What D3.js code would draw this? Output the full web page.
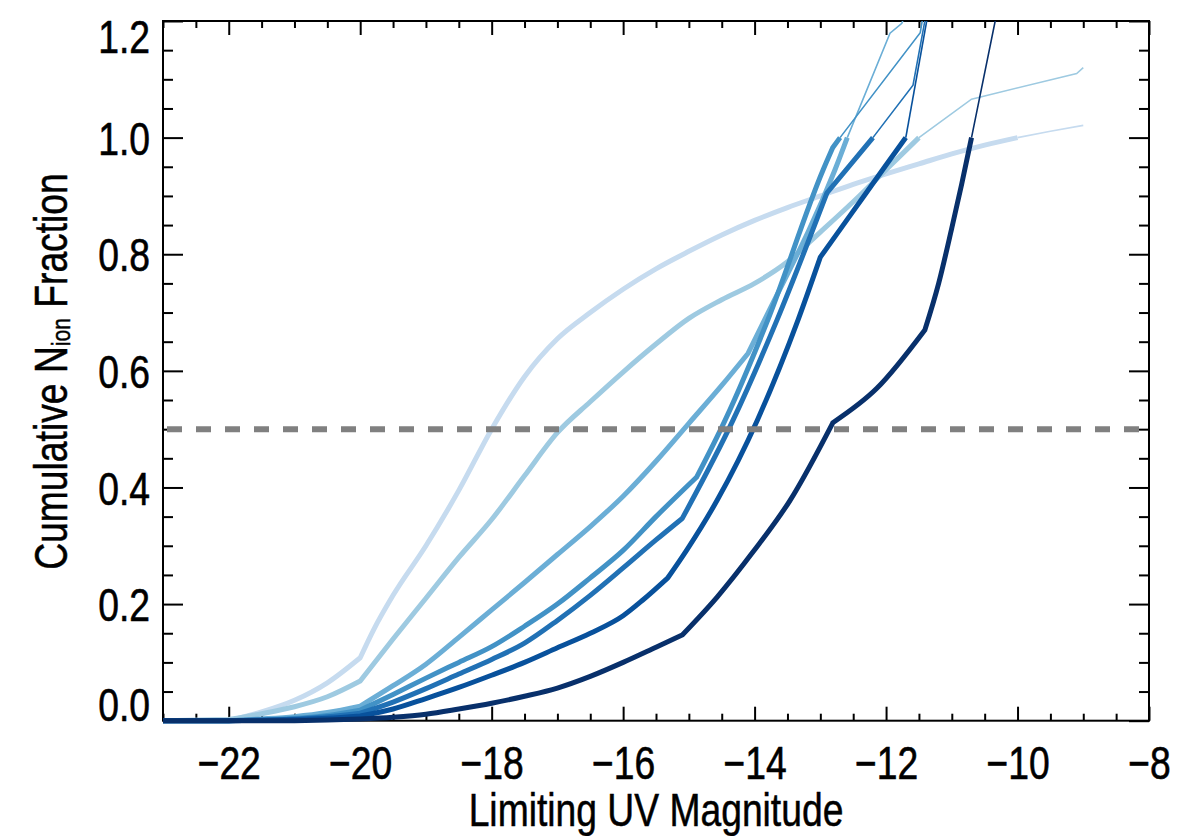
<!DOCTYPE html>
<html>
<head>
<meta charset="utf-8">
<script src="https://cdn.jsdelivr.net/npm/d3@7"></script>
<style>
  body { margin: 0; background: #fff; }
  text { font-family: "Liberation Sans", Arial, Helvetica, sans-serif; }
</style>
</head>
<body>
<div id="chart"></div>
<script>
// ---- data ----
// thick part of each curve (up to fraction = 1)
var magPale  = [-23, -22, -21.5, -21, -20.5, -20, -19.8, -19.5, -19, -18.5, -18, -17.5, -17, -16.5, -16, -15.5, -15, -14.5, -14, -13.5, -13, -12.5, -12, -11.5, -11, -10.5, -10];
var fracPale = [0, 0, 0.015, 0.035, 0.065, 0.108, 0.155, 0.215, 0.30, 0.395, 0.50, 0.59, 0.655, 0.70, 0.74, 0.775, 0.805, 0.833, 0.858, 0.88, 0.90, 0.92, 0.938, 0.955, 0.972, 0.987, 1.0];

var magLight  = [-23, -22, -21.5, -21, -20.5, -20, -19.5, -19, -18.5, -18, -17.5, -17, -16.5, -16, -15.5, -15, -14.5, -14, -13.5, -13, -12.5, -12, -11.5];
var fracLight = [0, 0.002, 0.012, 0.024, 0.041, 0.068, 0.14, 0.21, 0.28, 0.345, 0.42, 0.494, 0.547, 0.598, 0.646, 0.69, 0.722, 0.75, 0.787, 0.838, 0.89, 0.945, 1.0];

var magMid  = [-23, -22, -21.5, -21, -20.5, -20, -19.5, -19, -18.5, -18, -17.5, -17, -16.5, -16, -15.5, -15, -14.5, -14.1, -13.85, -12.78, -12.59];
var fracMid = [0, 0, 0.003, 0.007, 0.014, 0.025, 0.06, 0.097, 0.143, 0.19, 0.237, 0.285, 0.333, 0.385, 0.445, 0.51, 0.575, 0.63, 0.687, 0.944, 1.0];

var magB4  = [-23, -22, -21, -20.5, -20, -19.5, -19, -18.5, -18, -17.5, -17, -16.5, -16, -15.5, -14.88, -14.45, -13.8, -12.96, -12.81, -12.7];
var fracB4 = [0, 0, 0.004, 0.009, 0.018, 0.045, 0.073, 0.1, 0.127, 0.162, 0.2, 0.245, 0.292, 0.35, 0.418, 0.515, 0.687, 0.944, 0.983, 1.0];

var magB5  = [-23, -22, -21, -20.5, -20, -19.5, -19, -18.5, -18, -17.5, -17, -16.5, -16, -15.5, -15.1, -14.33, -13.66, -12.9, -12.2];
var fracB5 = [0, 0, 0.003, 0.007, 0.013, 0.032, 0.055, 0.08, 0.105, 0.133, 0.172, 0.215, 0.262, 0.31, 0.347, 0.515, 0.687, 0.905, 1.0];

var magB6  = [-23, -22, -21, -20.5, -20, -19.5, -19, -18.5, -18, -17.5, -17, -16.5, -16, -15.7, -15.32, -15.03, -14.57, -13.96, -13.34, -13.0, -12.5, -12.0, -11.7];
var fracB6 = [0, 0, 0.002, 0.004, 0.008, 0.02, 0.038, 0.057, 0.078, 0.1, 0.125, 0.15, 0.18, 0.207, 0.245, 0.293, 0.378, 0.515, 0.687, 0.795, 0.874, 0.953, 1.0];

var magDark  = [-23, -21, -20.5, -20, -19.5, -19, -18.5, -18, -17.5, -17, -16.5, -16, -15.5, -15.1, -14.57, -14.02, -13.46, -12.81, -12.14, -11.41, -11.2, -11.0, -10.85, -10.7];
var fracDark = [0, 0, 0.001, 0.003, 0.006, 0.011, 0.02, 0.03, 0.042, 0.056, 0.076, 0.1, 0.126, 0.147, 0.212, 0.29, 0.378, 0.511, 0.57, 0.67, 0.75, 0.845, 0.92, 1.0];

// magnitudes where a curve has a sharp corner
var kinkPale  = [-22, -20];
var kinkLight = [-22, -20];
var kinkMid   = [-22, -20, -14.1];
var kinkB4    = [-22, -20, -14.88, -12.81];
var kinkB5    = [-22, -20, -15.1, -12.9];
var kinkB6    = [-22, -20, -15.32, -13.0];
var kinkDark  = [-21, -15.1, -12.81, -11.41];

// thin continuation of each curve (fraction > 1)
var extMagPale  = [-10, -9.5, -9];
var extFracPale = [1.0, 1.011, 1.021];
var extMagLight  = [-11.5, -10.7, -9.1, -9.0];
var extFracLight = [1.0, 1.066, 1.11, 1.12];
var extMagMid  = [-12.59, -11.94, -11.76, -11.7];
var extFracMid = [1.0, 1.179, 1.196, 1.215];
var extMagB4  = [-12.7, -11.48, -11.42];
var extFracB4 = [1.0, 1.18, 1.22];
var extMagB5  = [-12.2, -11.59, -11.41, -11.39];
var extFracB5 = [1.0, 1.09, 1.2, 1.22];
var extMagB6  = [-11.7, -11.35];
var extFracB6 = [1.0, 1.22];
var extMagDark  = [-10.7, -10.34, -10.3];
var extFracDark = [1.0, 1.2, 1.22];

var seriesColors = ["#c6dbef", "#9ecae1", "#6baed6", "#4292c6", "#2171b5", "#08519c", "#08306b"];

var xMajor = [-22, -20, -18, -16, -14, -12, -10, -8];
var xTickLabels = ["\u221222", "\u221220", "\u221218", "\u221216", "\u221214", "\u221212", "\u221210", "\u22128"];
var yMajor = [0, 0.2, 0.4, 0.6, 0.8, 1.0, 1.2];
var yTickLabels = ["0.0", "0.2", "0.4", "0.6", "0.8", "1.0", "1.2"];
var halfLevel = 0.5;

// ---- layout ----
var svgWidth = 1200;
var svgHeight = 836;
var margin = { top: 21, right: 51, bottom: 115.3, left: 163 };
var width = svgWidth - margin.left - margin.right;
var height = svgHeight - margin.top - margin.bottom;
var narrow = 0.81;   // Helvetica Narrow look

var svg = d3.select("#chart").append("svg")
  .attr("width", svgWidth)
  .attr("height", svgHeight)
  .style("background", "#fff");

var chartGroup = svg.append("g")
  .attr("transform", `translate(${margin.left}, ${margin.top})`);

var x = d3.scaleLinear().domain([-23, -8]).range([0, width]);
var y = d3.scaleLinear().domain([0, 1.2]).range([height, 0]);

var xMinor = d3.range(-23, -7.99, 0.5).filter(d => xMajor.indexOf(d) < 0);
var yMinor = d3.range(0, 1.201, 0.05).map(d => +d.toFixed(2)).filter(d => yMajor.indexOf(d) < 0);

function styleTicks(g) {
  g.select(".domain").remove();
  g.selectAll("line").attr("stroke", "#000").attr("stroke-width", 2);
}

// bottom axis
chartGroup.append("g")
  .attr("transform", `translate(0, ${height})`)
  .call(d3.axisBottom(x).tickValues(xMinor).tickSize(-7).tickFormat(""))
  .call(styleTicks);

var bottomAxis = chartGroup.append("g")
  .attr("transform", `translate(0, ${height})`)
  .call(d3.axisBottom(x).tickValues(xMajor).tickSize(-14).tickFormat((d, i) => xTickLabels[i]))
  .call(styleTicks);

bottomAxis.attr("font-size", 46).attr("font-family", null);
bottomAxis.selectAll("text")
  .attr("y", 58)
  .attr("dy", 0)
  .attr("fill", "#000")
  .attr("stroke", "#000")
  .attr("stroke-width", 0.6)
  .attr("transform", `scale(${narrow},1)`);

// top axis
chartGroup.append("g")
  .call(d3.axisTop(x).tickValues(xMinor).tickSize(-7).tickFormat(""))
  .call(styleTicks);
chartGroup.append("g")
  .call(d3.axisTop(x).tickValues(xMajor).tickSize(-14).tickFormat(""))
  .call(styleTicks);

// left axis
chartGroup.append("g")
  .call(d3.axisLeft(y).tickValues(yMinor).tickSize(-10).tickFormat(""))
  .call(styleTicks);

var leftAxis = chartGroup.append("g")
  .call(d3.axisLeft(y).tickValues(yMajor).tickSize(-20).tickFormat((d, i) => yTickLabels[i]))
  .call(styleTicks);

leftAxis.attr("font-size", 46).attr("font-family", null);
leftAxis.selectAll("text")
  .attr("x", -13 / narrow)
  .attr("text-anchor", "end")
  .attr("fill", "#000")
  .attr("stroke", "#000")
  .attr("stroke-width", 0.6)
  .attr("transform", `scale(${narrow},1)`)
  .attr("y", d => d === 1.2 ? 31 : 0)
  .attr("dy", d => (d === 0 || d === 1.2) ? 0 : "0.36em");

// right axis
chartGroup.append("g")
  .attr("transform", `translate(${width}, 0)`)
  .call(d3.axisRight(y).tickValues(yMinor).tickSize(-10).tickFormat(""))
  .call(styleTicks);
chartGroup.append("g")
  .attr("transform", `translate(${width}, 0)`)
  .call(d3.axisRight(y).tickValues(yMajor).tickSize(-20).tickFormat(""))
  .call(styleTicks);

// frame
chartGroup.append("rect")
  .attr("x", 0).attr("y", 0)
  .attr("width", width).attr("height", height)
  .attr("fill", "none")
  .attr("stroke", "#000")
  .attr("stroke-width", 2);

// clip (top/sides only, let the zero line sit on the axis)
svg.append("defs").append("clipPath").attr("id", "plotClip")
  .append("rect")
  .attr("x", 0).attr("y", 0)
  .attr("width", width).attr("height", height + 4);

var zip = (a, b) => a.map((d, i) => [d, b[i]]);

var mainSeries = [
  zip(magPale, fracPale), zip(magLight, fracLight), zip(magMid, fracMid),
  zip(magB4, fracB4), zip(magB5, fracB5), zip(magB6, fracB6), zip(magDark, fracDark)
];
var kinkSeries = [kinkPale, kinkLight, kinkMid, kinkB4, kinkB5, kinkB6, kinkDark];
var extSeries = [
  zip(extMagPale, extFracPale), zip(extMagLight, extFracLight), zip(extMagMid, extFracMid),
  zip(extMagB4, extFracB4), zip(extMagB5, extFracB5), zip(extMagB6, extFracB6), zip(extMagDark, extFracDark)
];

var smoothLine = d3.line()
  .x(d => x(d[0]))
  .y(d => y(d[1]))
  .curve(d3.curveMonotoneX);

var straightLine = d3.line()
  .x(d => x(d[0]))
  .y(d => y(d[1]));

// smooth between corners, sharp at the corners, one continuous path
function cornerPath(data, kinks) {
  var segs = [[data[0]]];
  for (var i = 1; i < data.length; i++) {
    segs[segs.length - 1].push(data[i]);
    if (kinks.indexOf(data[i][0]) >= 0 && i < data.length - 1) segs.push([data[i]]);
  }
  var parts = segs.map(s => smoothLine(s));
  return parts[0] + parts.slice(1).map(s => s.replace(/^M[^A-Za-z]*/, "")).join("");
}

var curvesGroup = chartGroup.append("g").attr("clip-path", "url(#plotClip)");

mainSeries.forEach(function(data, i) {
  curvesGroup.append("path")
    .datum(extSeries[i])
    .attr("d", straightLine)
    .attr("fill", "none")
    .attr("stroke", seriesColors[i])
    .attr("stroke-width", 1.6);

  curvesGroup.append("path")
    .attr("d", cornerPath(data, kinkSeries[i]))
    .attr("fill", "none")
    .attr("stroke", seriesColors[i])
    .attr("stroke-width", 5);
});

// 50% level
chartGroup.append("line")
  .attr("x1", x(-23)).attr("x2", x(-8))
  .attr("y1", y(halfLevel)).attr("y2", y(halfLevel))
  .attr("stroke", "#808080")
  .attr("stroke-width", 6)
  .attr("stroke-dasharray", "15,14")
  .attr("stroke-dashoffset", 25);

// axis titles
svg.append("text")
  .attr("transform", `translate(${margin.left + width / 2}, 826) scale(${narrow},1)`)
  .attr("text-anchor", "middle")
  .attr("font-size", 46)
  .attr("fill", "#000")
  .attr("stroke", "#000")
  .attr("stroke-width", 0.5)
  .text("Limiting UV Magnitude");

var yTitle = svg.append("text")
  .attr("transform", `translate(67, 371.5) rotate(-90) scale(${narrow},1)`)
  .attr("text-anchor", "middle")
  .attr("font-size", 46)
  .attr("fill", "#000")
  .attr("stroke", "#000")
  .attr("stroke-width", 0.5);
yTitle.append("tspan").text("Cumulative N");
yTitle.append("tspan").attr("font-size", 26).attr("dy", 3).text("ion");
yTitle.append("tspan").attr("dy", -3).text(" Fraction");
</script>
</body>
</html>
